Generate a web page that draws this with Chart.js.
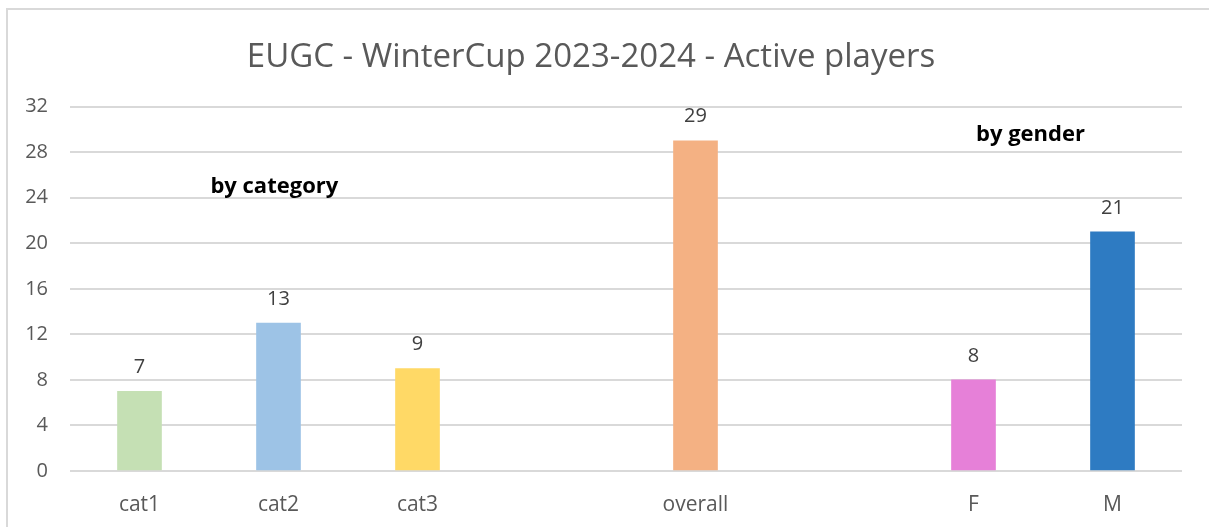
<!DOCTYPE html>
<html>
<head>
<meta charset="utf-8">
<script src="https://cdn.jsdelivr.net/npm/chart.js@4/dist/chart.umd.min.js"></script>
<style>
	html, body { margin: 0; padding: 0; background: #fff; overflow: hidden; }
	#wrap { position: relative; width: 1209px; height: 527px; }
	#frame { position: absolute; left: 6px; top: 8px; width: 1300px; height: 600px; border: 2px solid #d9d9d9; box-sizing: border-box; }
	canvas { position: absolute; left: 0; top: 0; }
</style>
</head>
<body>
<div id="wrap">
	<div id="frame"></div>
	<canvas id="chart" width="1209" height="527"></canvas>
</div>
<script>

const categories = ['cat1', 'cat2', 'cat3', '', 'overall', '', 'F', 'M'];
const players = [7, 13, 9, null, 29, null, 8, 21];
const barColors = ['#c5e0b4', '#9dc3e6', '#ffd966', '#ffffff', '#f4b183', '#ffffff', '#e680d8', '#2e7bc2'];
const yTicks = [0, 4, 8, 12, 16, 20, 24, 28, 32];

// free text boxes: [text, category index, value]
const notes = [
	['by category', 0.97, 25],
	['by gender', 6.41, 29.5]
];

const valueLabels = {
	id: 'valueLabels',
	afterDatasetsDraw(chart) {
		const ctx = chart.ctx;
		const meta = chart.getDatasetMeta(0);

		ctx.save();
		ctx.font = '20px "Open Sans"';
		ctx.fillStyle = '#404040';
		ctx.textAlign = 'center';
		ctx.textBaseline = 'middle';

		meta.data.forEach(function(bar, i) {
			if(players[i] === null) {
				return;
			}
			ctx.fillText(String(players[i]), bar.x, bar.y - 24);
		});

		ctx.font = 'bold 22px "Open Sans"';
		ctx.fillStyle = '#000000';
		notes.forEach(function(n) {
			const x = chart.scales.x.getPixelForValue(n[1]);
			const y = chart.scales.y.getPixelForValue(n[2]);
			ctx.fillText(n[0], x, y);
		});
		ctx.restore();
	}
};

new Chart(document.getElementById('chart').getContext('2d'), {
	type: 'bar',
	data: {
		labels: categories,
		datasets: [{
			data: players,
			backgroundColor: barColors,
			barThickness: 44
		}]
	},
	options: {
		responsive: false,
		animation: false,
		layout: {
			padding: {left: 0, right: 27, top: 0, bottom: 0}
		},
		plugins: {
			legend: {display: false},
			tooltip: {enabled: false},
			title: {
				display: true,
				text: 'EUGC - WinterCup 2023-2024 - Active players',
				color: '#595959',
				font: {family: '"Open Sans"', size: 33, weight: 'normal'},
				padding: {top: 38, bottom: 29}
			}
		},
		scales: {
			x: {
				grid: {display: false},
				border: {display: false},
				ticks: {
					color: '#595959',
					font: {family: '"Open Sans"', size: 21},
					padding: 13,
					maxRotation: 0
				},
				afterFit(scale) {
					scale.height = 56;
				}
			},
			y: {
				min: 0,
				max: 32,
				grid: {color: '#d9d9d9', lineWidth: 2, drawTicks: false},
				border: {display: false},
				ticks: {
					stepSize: 4,
					color: '#595959',
					font: {family: '"Open Sans"', size: 20},
					padding: 22,
					callback: function(v) {
						return yTicks.includes(v) ? v : '';
					}
				},
				afterFit(scale) {
					scale.width = 70;
				}
			}
		}
	},
	plugins: [valueLabels]
});

</script>
</body>
</html>
